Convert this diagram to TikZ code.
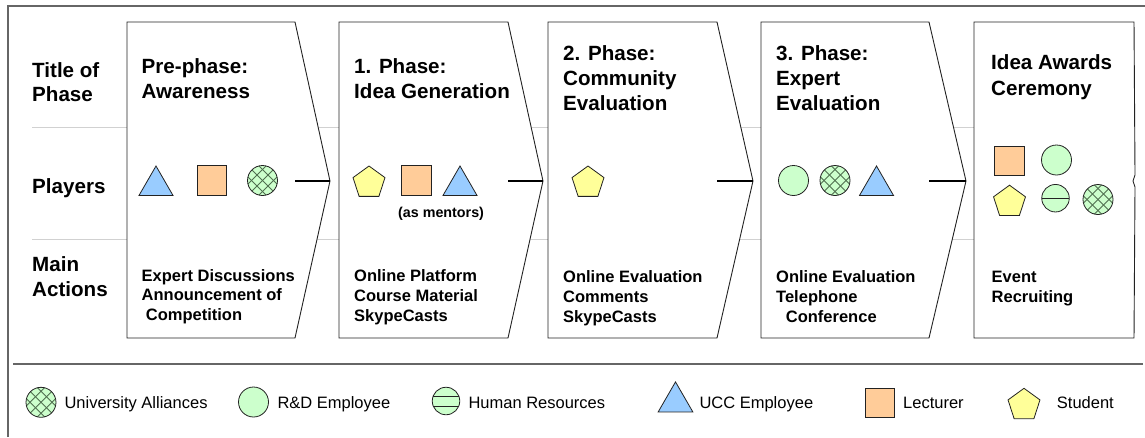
\documentclass[tikz,border=0pt]{standalone}
\usepackage{fontspec}
\setmainfont{Liberation Sans}
\usetikzlibrary{shapes.geometric}
\definecolor{cgreen}{HTML}{CCFFCC}
\definecolor{corange}{HTML}{FFCC99}
\definecolor{cblue}{HTML}{99CCFF}
\definecolor{cyellow}{HTML}{FFFF99}
\definecolor{edge}{HTML}{222222}
\definecolor{hatch}{HTML}{4F6F4F}
\tikzset{
  frameline/.style={draw=black!60,line width=1.2pt},
  rowline/.style={draw=black!18,line width=1pt},
  phasebox/.style={draw=edge,fill=white,line width=0.9pt,line join=miter},
  link/.style={draw=black,line width=1.2pt},
  head/.style={anchor=base west,inner sep=0pt,font=\fontsize{20.6}{24}\selectfont\bfseries},
  act/.style={anchor=base west,inner sep=0pt,font=\fontsize{16.5}{20}\selectfont\bfseries},
  leg/.style={anchor=base west,inner sep=0pt,font=\fontsize{16.5}{19}\selectfont},
  tri/.style={regular polygon,regular polygon sides=3,draw=edge,fill=cblue,inner sep=0pt,minimum size=39.4pt,line width=0.8pt},
  pent/.style={regular polygon,regular polygon sides=5,draw=edge,fill=cyellow,inner sep=0pt,minimum size=33.6pt,line width=0.8pt},
  sq/.style={rectangle,draw=edge,fill=corange,inner sep=0pt,minimum size=29.5pt,line width=0.8pt},
  rd/.style={circle,draw=edge,fill=cgreen,inner sep=0pt,minimum size=30pt,line width=0.8pt},
  hr/.style={rd,minimum size=27.5pt,path picture={
     \draw[edge,line width=0.7pt] (path picture bounding box.west) -- (path picture bounding box.east);}},
  hrleg/.style={rd,minimum size=27.5pt,path picture={
     \draw[edge,line width=0.7pt] ([yshift=5pt]path picture bounding box.west) -- ([yshift=5pt]path picture bounding box.east);
     \draw[edge,line width=0.7pt] ([yshift=-5pt]path picture bounding box.west) -- ([yshift=-5pt]path picture bounding box.east);}},
  ua/.style={rd,path picture={
     \foreach \k in {-22,-11,0,11,22}{
       \draw[hatch,line width=0.9pt] ([shift={(\k-20,-20)}]path picture bounding box.center) -- ([shift={(\k+20,20)}]path picture bounding box.center);
       \draw[hatch,line width=0.9pt] ([shift={(\k-20,20)}]path picture bounding box.center) -- ([shift={(\k+20,-20)}]path picture bounding box.center);
     }}},
}
\begin{document}
\begin{tikzpicture}[x=1pt,y=-1pt]
\useasboundingbox (0,0) rectangle (1145,437);
% frame
\coordinate (fa) at (8,437); \coordinate (fb) at (8,6); \coordinate (fc) at (1145,6);
\draw[frameline] (fa) -- (fb) -- (fc);
\coordinate (la) at (13,364); \coordinate (lb) at (1142.5,364);
\draw[frameline] (la) -- (lb);
% row separators
\coordinate (ra) at (32,127); \coordinate (rb) at (1000,127);
\coordinate (sa) at (32,239); \coordinate (sb) at (1000,239);
\draw[rowline] (ra) -- (rb);
\draw[rowline] (sa) -- (sb);
% phase boxes
\foreach \n/\l/\r/\t in {0/127/295/330,1/339/508/543,2/548/717/753,3/761/929/966}{
  \coordinate (p\n nw) at (\l,22);
  \coordinate (p\n ne) at (\r,22);
  \coordinate (p\n tip) at (\t,181);
  \coordinate (p\n se) at (\r,338);
  \coordinate (p\n sw) at (\l,338);
  \coordinate (p\n in) at (\r,181);
  \draw[phasebox] (p\n nw) -- (p\n ne) -- (p\n tip) -- (p\n se) -- (p\n sw) -- cycle;
  \draw[link] (p\n in) -- (p\n tip);
}
\coordinate (p4nw) at (974,22); \coordinate (p4ne) at (1134,22);
\coordinate (p4u) at (1135,175); \coordinate (p4m) at (1133,181); \coordinate (p4d) at (1135,187);
\coordinate (p4se) at (1134,338); \coordinate (p4sw) at (974,338);
\draw[phasebox] (p4nw) -- (p4ne) -- (p4u) -- (p4m) -- (p4d) -- (p4se) -- (p4sw) -- cycle;
% row labels
\node[head] (r1a) at (32,77) {Title of};
\node[head] (r1b) at (32,101) {Phase};
\node[head] (r2) at (32,193) {Players};
\node[head] (r3a) at (32,271) {Main};
\node[head] (r3b) at (32,296) {Actions};
% titles
\node[head] (t0a) at (141.5,73) {Pre-phase:};
\node[head] (t0b) at (141.5,98) {Awareness};
\node[head] (t1a) at (354,73) {1. Phase:};
\node[head] (t1b) at (354,98) {Idea Generation};
\node[head] (t2a) at (563,60.7) {2. Phase:};
\node[head] (t2b) at (563,85.3) {Community};
\node[head] (t2c) at (563,110.7) {Evaluation};
\node[head] (t3a) at (776,60.7) {3. Phase:};
\node[head] (t3b) at (776,85.3) {Expert};
\node[head] (t3c) at (776,110.7) {Evaluation};
\node[head] (t4a) at (991,69) {Idea Awards};
\node[head] (t4b) at (991,95) {Ceremony};
% actions
\node[act] (a0a) at (141.5,281) {Expert Discussions};
\node[act] (a0b) at (141.5,300.7) {Announcement of};
\node[act] (a0c) at (145.7,320.7) {Competition};
\node[act] (a1a) at (354,281) {Online Platform};
\node[act] (a1b) at (354,301) {Course Material};
\node[act] (a1c) at (354,321) {SkypeCasts};
\node[act] (a2a) at (563,282.7) {Online Evaluation};
\node[act] (a2b) at (563,302) {Comments};
\node[act] (a2c) at (563,322) {SkypeCasts};
\node[act] (a3a) at (776,282.7) {Online Evaluation};
\node[act] (a3b) at (776,302) {Telephone};
\node[act] (a3c) at (785.7,322) {Conference};
\node[act] (a4a) at (991.5,282.7) {Event};
\node[act] (a4b) at (991.5,302) {Recruiting};
\node[anchor=base west,inner sep=0pt,font=\fontsize{14.3}{17}\selectfont\bfseries] (ment) at (398,217) {(as mentors)};
% players
\node[tri] (s0a) at (156,185.7) {};
\node[sq] (s0b) at (212,180.5) {};
\node[ua] (s0c) at (262.5,180.5) {};
\node[pent] (s1a) at (369,182.8) {};
\node[sq] (s1b) at (416.5,180.5) {};
\node[tri] (s1c) at (460,185.7) {};
\node[pent] (s2a) at (588,182.8) {};
\node[rd] (s3a) at (793.5,180.5) {};
\node[ua] (s3b) at (835,180.5) {};
\node[tri] (s3c) at (876.5,185.7) {};
\node[sq] (s4a) at (1009.5,161) {};
\node[rd] (s4b) at (1056.5,160) {};
\node[pent] (s4c) at (1009.5,202) {};
\node[hr] (s4d) at (1055.5,198.2) {};
\node[ua] (s4e) at (1098,199.5) {};
% legend
\node[ua] (k1) at (41,402.3) {};
\node[leg] (k1t) at (64.3,408) {University Alliances};
\node[rd] (k2) at (253.5,402) {};
\node[leg] (k2t) at (277.3,408) {R\&D Employee};
\node[hrleg] (k3) at (446,401) {};
\node[leg] (k3t) at (468.3,408) {Human Resources};
\node[tri,minimum size=40pt] (k4) at (675.5,401.9) {};
\node[leg] (k4t) at (699.3,408) {UCC Employee};
\node[sq] (k5) at (879.7,402.7) {};
\node[leg] (k5t) at (903,408) {Lecturer};
\node[pent] (k6) at (1024,405.1) {};
\node[leg] (k6t) at (1056.7,408) {Student};
\end{tikzpicture}
\end{document}
